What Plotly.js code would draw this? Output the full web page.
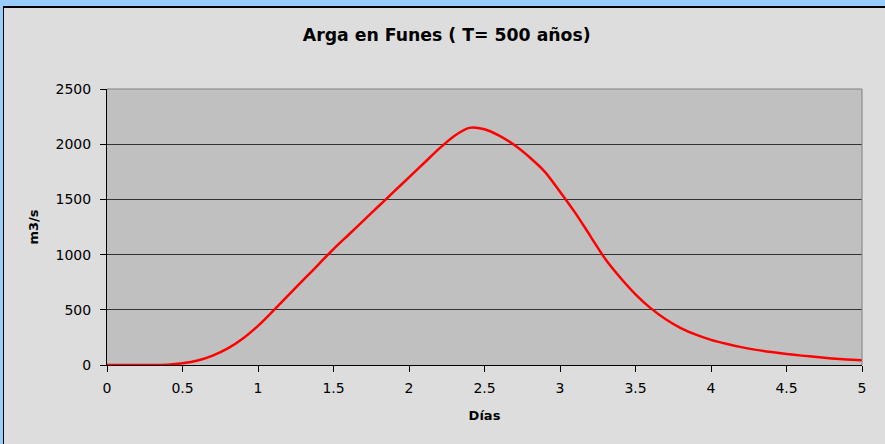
<!DOCTYPE html>
<html>
<head>
<meta charset="utf-8">
<script src="https://cdn.plot.ly/plotly-3.0.1.min.js"></script>
<style>
  html, body { margin: 0; padding: 0; width: 885px; height: 444px; background: #99CCFF; overflow: hidden; }
  #frame { position: absolute; left: 3px; top: 6px; width: 882px; height: 438px; border-top: 2px solid #000; border-left: 1px solid #000; background: #DDDDDD; }
  #chart { position: absolute; left: 0; top: 0; width: 882px; height: 436px; }
</style>
</head>
<body>
<div id="frame"><div id="chart"></div></div>
<script>
const dias = [0, 0.1, 0.2, 0.3, 0.4, 0.5, 0.6, 0.7, 0.8, 0.9,
              1.0, 1.1, 1.2, 1.3, 1.4, 1.5, 1.6, 1.7, 1.8, 1.9,
              2.0, 2.1, 2.2, 2.3, 2.4, 2.5, 2.6, 2.7, 2.8, 2.9,
              3.0, 3.1, 3.2, 3.3, 3.4, 3.5, 3.6, 3.7, 3.8, 3.9,
              4.0, 4.1, 4.2, 4.3, 4.4, 4.5, 4.6, 4.7, 4.8, 4.9, 5.0];
const caudal = [0, 0, 0, 0, 3, 15, 40, 85, 150, 240,
                355, 490, 630, 770, 910, 1050, 1180, 1310, 1440, 1570,
                1700, 1830, 1960, 2075, 2148, 2135, 2075, 1990, 1880, 1750,
                1570, 1380, 1170, 960, 790, 640, 515, 415, 335, 275,
                228, 192, 162, 137, 117, 100, 85, 72, 60, 50, 42];
const titulo = 'Arga en Funes ( T= 500 años)';
const tituloX = 'Días';
const tituloY = 'm3/s';

const trace = {
  x: dias, y: caudal, type: 'scatter', mode: 'lines',
  line: { color: '#FF0000', width: 2.5, shape: 'spline', smoothing: 0.8 },
  hoverinfo: 'x+y'
};

const layout = {
  width: 882, height: 436,
  paper_bgcolor: '#DDDDDD', plot_bgcolor: '#C0C0C0',
  margin: { l: 103, r: 24, t: 81, b: 79 },
  font: { family: 'DejaVu Sans, sans-serif', size: 14, color: '#000' },
  showlegend: false,
  title: { text: '<b>' + titulo + '</b>', font: { size: 17.3, color: '#000', family: 'DejaVu Sans, sans-serif' },
           x: 0.502, xref: 'container', xanchor: 'center', y: 0.938, yref: 'container', yanchor: 'middle' },
  xaxis: {
    range: [0, 5], dtick: 0.5, tick0: 0,
    showline: true, linecolor: '#000', linewidth: 1,
    ticks: 'outside', ticklen: 6, tickcolor: '#000', ticklabelstandoff: 4,
    showgrid: false, zeroline: false,
    title: { text: '<b>' + tituloX + '</b>', font: { size: 13 }, standoff: 16 }
  },
  yaxis: {
    range: [0, 2500], dtick: 500, tick0: 0,
    showline: true, linecolor: '#000', linewidth: 1,
    ticks: 'outside', ticklen: 6, tickcolor: '#000', ticklabelstandoff: 6,
    showgrid: true, gridcolor: '#333333', gridwidth: 1, zeroline: false,
    title: { text: '<b>' + tituloY + '</b>', font: { size: 13 }, standoff: 14 }
  },
  shapes: [
    { type: 'line', xref: 'paper', yref: 'paper', x0: 0, x1: 1, y0: 1, y1: 1, line: { color: '#808080', width: 1 } },
    { type: 'line', xref: 'paper', yref: 'paper', x0: 1, x1: 1, y0: 0, y1: 1, line: { color: '#808080', width: 1 } }
  ]
};

Plotly.newPlot('chart', [trace], layout, { displayModeBar: false, staticPlot: true });
</script>
</body>
</html>
